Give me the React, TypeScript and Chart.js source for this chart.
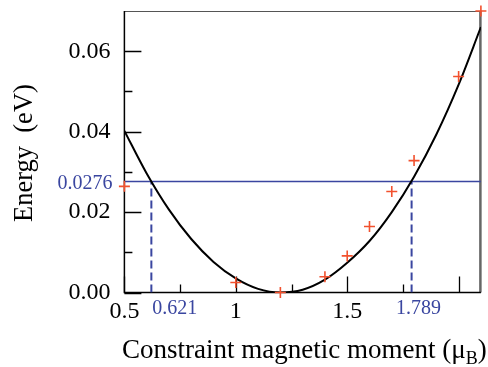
import React, { useEffect, useRef } from 'react';
import { Chart, registerables } from 'chart.js';

Chart.register(...registerables);

// Fitted curve
const fitX = [0.5, 0.6, 0.7, 0.8, 0.9, 1.0, 1.1, 1.2, 1.3, 1.4, 1.5, 1.6, 1.7, 1.8, 1.9, 2.0, 2.1];
const fitE = [0.0402, 0.0296, 0.0206, 0.0133, 0.0076, 0.0035, 0.0009, 0.0, 0.0007, 0.0032, 0.0074, 0.0128, 0.0200, 0.0288, 0.0393, 0.0517, 0.0660];

// Calculated points (red crosses)
const dataX = [0.5, 1.0, 1.2, 1.4, 1.5, 1.6, 1.7, 1.8, 2.0, 2.1];
const dataE = [0.0264, 0.0025, 0.0, 0.0039, 0.0091, 0.0164, 0.0251, 0.0328, 0.0537, 0.0700];

// Reference level and crossings
const levelE = 0.0276;
const crossX = [0.621, 1.789];
const levelLabel = '0.0276';
const crossLabels = ['0.621', '1.789'];

// Tick labels
const xTickLabels = [0.5, 1, 1.5, 2];
const yTickLabels = [0, 0.02, 0.04, 0.06];
const xMinor = [0.75, 1.25, 1.75];
const yMinor = [0.01, 0.03, 0.05];

const X_MIN = 0.5, X_MAX = 2.1, Y_MIN = 0, Y_MAX = 0.07;

const SERIF = '"Liberation Serif", "Times New Roman", "DejaVu Serif", serif';
const BLUE = '#3a46a0';
const RED = '#f2512e';

const decorPlugin = {
  id: 'decor',
  beforeDatasetsDraw(chart: any) {
    const { ctx, chartArea: a, scales } = chart;
    const xs = scales.x, ys = scales.y;
    ctx.save();
    // frame
    ctx.strokeStyle = '#555';
    ctx.lineWidth = 1;
    ctx.beginPath();
    ctx.moveTo(a.left, a.top + 0.5);
    ctx.lineTo(a.right, a.top + 0.5);
    ctx.stroke();
    ctx.strokeStyle = '#666';
    ctx.lineWidth = 2.5;
    ctx.beginPath();
    ctx.moveTo(a.right - 0.5, a.top);
    ctx.lineTo(a.right - 0.5, a.bottom);
    ctx.stroke();
    ctx.strokeStyle = '#000';
    ctx.lineWidth = 1.5;
    ctx.beginPath();
    ctx.moveTo(a.left, a.top);
    ctx.lineTo(a.left, a.bottom);
    ctx.lineTo(a.right, a.bottom);
    ctx.stroke();
    // inward ticks
    ctx.lineWidth = 1.3;
    ctx.beginPath();
    yTickLabels.forEach((v) => {
      const y = Math.round(ys.getPixelForValue(v)) + 0.5;
      ctx.moveTo(a.left, y);
      ctx.lineTo(a.left + 17, y);
    });
    yMinor.forEach((v) => {
      const y = Math.round(ys.getPixelForValue(v)) + 0.5;
      ctx.moveTo(a.left, y);
      ctx.lineTo(a.left + 8, y);
    });
    xTickLabels.forEach((v) => {
      const x = Math.round(xs.getPixelForValue(v)) + 0.5;
      ctx.moveTo(x, a.bottom);
      ctx.lineTo(x, a.bottom - 16);
    });
    xMinor.forEach((v) => {
      const x = Math.round(xs.getPixelForValue(v)) + 0.5;
      ctx.moveTo(x, a.bottom);
      ctx.lineTo(x, a.bottom - 8);
    });
    ctx.stroke();
    ctx.restore();
  },
  afterDraw(chart: any) {
    const { ctx, chartArea: a, scales } = chart;
    const xs = scales.x, ys = scales.y;
    ctx.save();
    // blue annotations
    ctx.fillStyle = BLUE;
    ctx.font = `20px ${SERIF}`;
    ctx.textBaseline = 'middle';
    ctx.textAlign = 'right';
    ctx.fillText(levelLabel, a.left - 12, ys.getPixelForValue(levelE) + 2);
    ctx.textAlign = 'left';
    ctx.fillText(crossLabels[0], xs.getPixelForValue(crossX[0]) + 1, a.bottom + 16);
    ctx.textAlign = 'center';
    ctx.fillText(crossLabels[1], xs.getPixelForValue(crossX[1]) + 7, a.bottom + 16);
    // axis titles
    ctx.fillStyle = '#000';
    ctx.textBaseline = 'alphabetic';
    ctx.textAlign = 'left';
    ctx.font = `27px ${SERIF}`;
    const main = 'Constraint magnetic moment (\u03bc';
    const x0 = 122, yb = 358;
    ctx.fillText(main, x0, yb);
    const w1 = ctx.measureText(main).width;
    ctx.font = `18px ${SERIF}`;
    ctx.fillText('B', x0 + w1, yb + 6);
    const w2 = ctx.measureText('B').width;
    ctx.font = `27px ${SERIF}`;
    ctx.fillText(')', x0 + w1 + w2, yb);
    // y title
    ctx.font = `26.5px ${SERIF}`;
    ctx.translate(32, 222);
    ctx.rotate(-Math.PI / 2);
    ctx.fillText('Energy  (eV)', 0, 0);
    ctx.restore();
  },
};

export default function App() {
  const ref = useRef<HTMLCanvasElement | null>(null);
  useEffect(() => {
    if (!ref.current) return;
    const fitPts = fitX.map((x, i) => ({ x, y: fitE[i] }));
    const dataPts = dataX.map((x, i) => ({ x, y: dataE[i] }));
    const chart = new Chart(ref.current, {
      type: 'scatter',
      data: {
        datasets: [
          {
            label: 'calc',
            data: dataPts,
            showLine: false,
            pointStyle: 'cross',
            pointRadius: 5.5,
            pointBorderWidth: 1.6,
            borderColor: RED,
            backgroundColor: RED,
            clip: false,
          } as any,
          {
            label: 'fit',
            data: fitPts,
            showLine: true,
            borderColor: '#000',
            borderWidth: 2,
            pointRadius: 0,
            cubicInterpolationMode: 'monotone',
          } as any,
          {
            label: 'level',
            data: [{ x: X_MIN, y: levelE }, { x: X_MAX, y: levelE }],
            showLine: true,
            borderColor: BLUE,
            borderWidth: 1.6,
            pointRadius: 0,
          } as any,
          ...crossX.map((cx) => ({
            label: 'cross' + cx,
            data: [{ x: cx, y: Y_MIN }, { x: cx, y: levelE }],
            showLine: true,
            borderColor: BLUE,
            borderWidth: 2,
            borderDash: [8, 4],
            pointRadius: 0,
          } as any)),
        ],
      },
      options: {
        animation: false,
        responsive: false,
        devicePixelRatio: 1,
        layout: { padding: { left: 0, right: 4, top: 11, bottom: 0 } },
        plugins: { legend: { display: false }, tooltip: { enabled: false } },
        scales: {
          x: {
            type: 'linear',
            min: X_MIN,
            max: X_MAX,
            grid: { display: false, drawTicks: false },
            border: { display: false },
            ticks: {
              stepSize: 0.25,
              autoSkip: false,
              maxRotation: 0,
              padding: 5,
              color: '#000',
              font: { family: SERIF, size: 24 },
              callback: (v: any) => {
                const n = Math.round(Number(v) * 100) / 100;
                return xTickLabels.includes(n) ? String(n) : '';
              },
            },
            afterFit: (s: any) => {
              s.height = 74.5;
              s.paddingLeft = 0;
              s.paddingRight = 0;
            },
          },
          y: {
            type: 'linear',
            min: Y_MIN,
            max: Y_MAX,
            grid: { display: false, drawTicks: false },
            border: { display: false },
            ticks: {
              stepSize: 0.01,
              autoSkip: false,
              padding: 14,
              color: '#000',
              font: { family: SERIF, size: 24 },
              callback: (v: any) => {
                const n = Math.round(Number(v) * 100);
                return n % 2 === 0 ? (n / 100).toFixed(2) : '';
              },
            },
            afterFit: (s: any) => {
              s.width = 124.4;
              s.paddingTop = 0;
              s.paddingBottom = 0;
            },
          },
        },
      },
      plugins: [decorPlugin],
    });
    return () => chart.destroy();
  }, []);
  return (
    <div style={{ position: 'absolute', left: 0, top: 0, width: 488, height: 367, background: '#fff' }}>
      <canvas ref={ref} width={488} height={367} style={{ display: 'block' }} />
    </div>
  );
}
